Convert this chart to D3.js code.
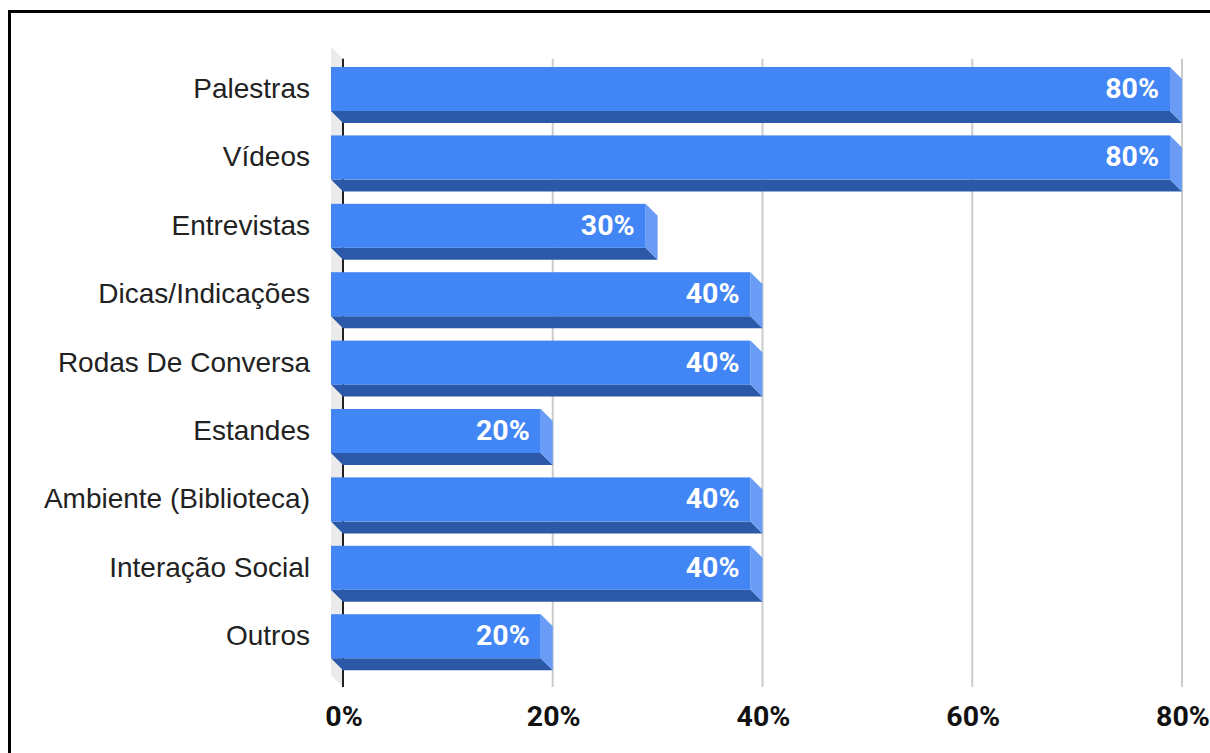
<!DOCTYPE html>
<html lang="pt">
<head>
<meta charset="UTF-8" />
<title>Atividades</title>
<script src="https://d3js.org/d3.v7.min.js"></script>
<style>
  body { margin: 0; background: #fff; }
  svg { display: block; }
  .cat { font-family: "Liberation Sans", Arial, sans-serif; font-size: 28px; fill: #222; text-anchor: end; }
  .val { font-family: Roboto, "Liberation Sans", sans-serif; font-weight: bold; font-size: 28.5px; fill: #fff; text-anchor: end; }
  .tick-label { font-family: Roboto, "Liberation Sans", sans-serif; font-weight: bold; font-size: 28.5px; fill: #111; text-anchor: middle; }
</style>
</head>
<body>
<svg width="1210" height="753"></svg>
<script>
const categories = ["Palestras", "Vídeos", "Entrevistas", "Dicas/Indicações", "Rodas De Conversa",
  "Estandes", "Ambiente (Biblioteca)", "Interação Social", "Outros"];
const values = [80, 80, 30, 40, 40, 20, 40, 40, 20];
const ticks = [0, 20, 40, 60, 80];

const svg = d3.select("svg");
const depth = 12;

// frame
svg.append("rect")
  .attr("x", 9.5).attr("y", 11.5)
  .attr("width", 1240).attr("height", 800)
  .attr("fill", "none").attr("stroke", "#000").attr("stroke-width", 3);

// x on the back plane
const x = d3.scaleLinear().domain([0, 80]).range([343, 1182]);
const y = d3.scaleBand().domain(categories)
  .range([54.8, 670.4]).paddingInner(0.357).paddingOuter(0.1785);

const plotTop = y.range()[0] + 2, plotBottom = 687;

// left wall
svg.append("path")
  .attr("d", `M${x(0) - depth},${plotTop - depth + 2} L${x(0)},${plotTop + 2} L${x(0)},${plotBottom} L${x(0) - depth},${plotBottom - depth} Z`)
  .attr("fill", "#ebebeb");

// gridlines
svg.append("g").selectAll("line")
  .data(ticks.filter(t => t > 0))
  .join("line")
  .attr("x1", d => x(d)).attr("x2", d => x(d))
  .attr("y1", plotTop + 2).attr("y2", plotBottom)
  .attr("stroke", "#cccccc").attr("stroke-width", 2);

svg.append("line")
  .attr("x1", x(0)).attr("x2", x(0))
  .attr("y1", plotTop + 2).attr("y2", plotBottom)
  .attr("stroke", "#222").attr("stroke-width", 2);

// bars
const bars = svg.append("g").selectAll("g")
  .data(categories.map((c, i) => ({ c, v: values[i] })))
  .join("g");

const h = y.bandwidth();

// bottom face
bars.append("path")
  .attr("d", d => {
    const x0 = x(0) - depth, x1 = x(d.v) - depth, yb = y(d.c) + h;
    return `M${x0},${yb} L${x1},${yb} L${x1 + depth},${yb + depth} L${x0 + depth},${yb + depth} Z`;
  })
  .attr("fill", "#2c58a8");

// side face
bars.append("path")
  .attr("d", d => {
    const x1 = x(d.v) - depth, y0 = y(d.c);
    return `M${x1},${y0} L${x1 + depth},${y0 + depth} L${x1 + depth},${y0 + h + depth} L${x1},${y0 + h} Z`;
  })
  .attr("fill", "#6a9cf6");

// front face
bars.append("rect")
  .attr("x", x(0) - depth)
  .attr("y", d => y(d.c))
  .attr("width", d => x(d.v) - x(0))
  .attr("height", h)
  .attr("fill", "#4285f4");

bars.append("text")
  .attr("class", "val")
  .attr("x", d => x(d.v) - depth - 11)
  .attr("y", d => y(d.c) + h / 2 + 9)
  .text(d => d.v + "%");

// category labels
svg.append("g").selectAll("text")
  .data(categories)
  .join("text")
  .attr("class", "cat")
  .attr("x", 310)
  .attr("y", d => y(d) + h / 2 + 9)
  .text(d => d);

// tick labels
svg.append("g").selectAll("text")
  .data(ticks)
  .join("text")
  .attr("class", "tick-label")
  .attr("x", d => x(d) + 1)
  .attr("y", 726)
  .text(d => d + "%");
</script>
</body>
</html>
